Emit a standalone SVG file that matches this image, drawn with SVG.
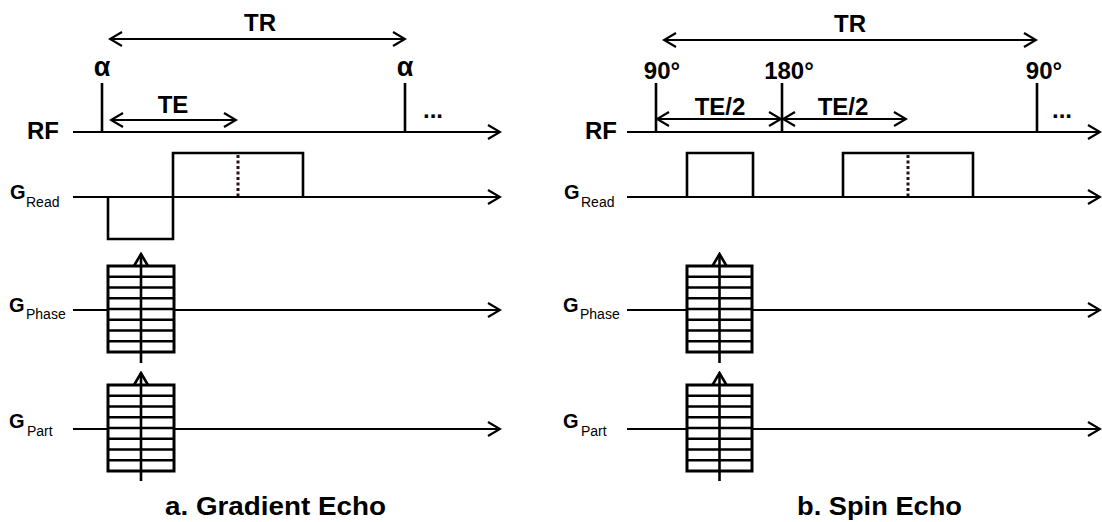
<svg xmlns="http://www.w3.org/2000/svg" width="1102" height="522" viewBox="0 0 1102 522">
<defs>
<marker id="chev" viewBox="-15 -9 17 18" markerWidth="17" markerHeight="18" refX="0" refY="0" orient="auto-start-reverse" markerUnits="userSpaceOnUse">
<path d="M-12,-7 L0,0 L-12,7" fill="none" stroke="#000" stroke-width="2.2"/>
</marker>
<marker id="chevT" viewBox="-15 -9 17 18" markerWidth="17" markerHeight="18" refX="0" refY="0" orient="auto" markerUnits="userSpaceOnUse">
<path d="M-12,-7 L0,0 L-12,7" fill="none" stroke="#000" stroke-width="2.6"/>
</marker>
</defs>
<style>
.ax{stroke:#000;stroke-width:2;fill:none;marker-end:url(#chev)}
.dim{stroke:#000;stroke-width:2;fill:none;marker-start:url(#chev);marker-end:url(#chev)}
.pulse{stroke:#000;stroke-width:2.6;fill:none}
.lobe{stroke:#000;stroke-width:2.6;fill:none}
.dot{stroke:#2a1010;stroke-width:3;stroke-dasharray:3 2.5;fill:none}
.tbl{stroke:#000;stroke-width:3;fill:#fff}
.row{stroke:#000;stroke-width:2.6}
.varr{stroke:#000;stroke-width:2.6;fill:none;marker-end:url(#chevT)}
.lb{font-family:"Liberation Sans",Arial,sans-serif;font-weight:bold;font-size:24px;fill:#000}
.al{font-family:"Liberation Sans",Arial,sans-serif;font-weight:bold;font-size:27px;fill:#000}
.g{font-family:"Liberation Sans",Arial,sans-serif;font-weight:bold;font-size:20px;fill:#000}
.sub{font-family:"Liberation Sans",Arial,sans-serif;font-size:14px;fill:#000}
.ttl{font-family:"Liberation Sans",Arial,sans-serif;font-weight:bold;font-size:25px;fill:#000}
.mid{text-anchor:middle}
</style>
<rect width="1102" height="522" fill="#fff"/>

<g id="connectors">
<line class="ax" x1="73" y1="132" x2="500" y2="132"/>
<line class="ax" x1="73" y1="197" x2="500" y2="197"/>
<line class="ax" x1="73" y1="310" x2="500" y2="310"/>
<line class="ax" x1="73" y1="429" x2="500" y2="429"/>
<line class="ax" x1="627" y1="132" x2="1100" y2="132"/>
<line class="ax" x1="627" y1="197" x2="1100" y2="197"/>
<line class="ax" x1="627" y1="310" x2="1100" y2="310"/>
<line class="ax" x1="627" y1="429" x2="1100" y2="429"/>
<line class="dim" x1="110" y1="39" x2="405" y2="39"/>
<line class="dim" x1="111" y1="120" x2="236" y2="120"/>
<line class="dim" x1="664" y1="40" x2="1036" y2="40"/>
<line class="dim" x1="657" y1="119" x2="781" y2="119"/>
<line class="dim" x1="783" y1="119" x2="906" y2="119"/>
</g>

<g id="panel-a">
<g id="a-rf">
<text class="lb" x="27" y="139">RF</text>
<line class="pulse" x1="102" y1="83" x2="102" y2="132"/>
<line class="pulse" x1="405" y1="83" x2="405" y2="132"/>
<text class="al mid" x="102" y="76">α</text>
<text class="al mid" x="405" y="76">α</text>
<text class="lb mid" x="260" y="31">TR</text>
<text class="lb mid" x="173" y="113">TE</text>
<text class="lb" x="423" y="118">...</text>
</g>
<g id="a-read">
<text class="g" x="10" y="199">G</text><text class="sub" x="26" y="207">Read</text>
<path class="lobe" d="M108,197 V239 H173 V153 H303 V197"/>
<line class="dot" x1="238" y1="155" x2="238" y2="196"/>
</g>
<g id="a-phase">
<text class="g" x="9" y="312">G</text><text class="sub" x="26" y="319">Phase</text>
<rect class="tbl" x="108" y="266" width="66" height="86"/>
<path class="row" d="M108,276.75H174M108,287.5H174M108,298.25H174M108,309H174M108,319.75H174M108,330.5H174M108,341.25H174"/>
<line class="varr" x1="141" y1="363" x2="141" y2="254"/>
</g>
<g id="a-part">
<text class="g" x="9" y="428">G</text><text class="sub" x="27" y="436">Part</text>
<rect class="tbl" x="108" y="385" width="66" height="86"/>
<path class="row" d="M108,395.75H174M108,406.5H174M108,417.25H174M108,428H174M108,438.75H174M108,449.5H174M108,460.25H174"/>
<line class="varr" x1="141" y1="481" x2="141" y2="373"/>
</g>
<text id="a-title" class="ttl" x="165" y="515" textLength="221" lengthAdjust="spacingAndGlyphs">a. Gradient Echo</text>
</g>

<g id="panel-b">
<g id="b-rf">
<text class="lb" x="585" y="139">RF</text>
<line class="pulse" x1="656" y1="83" x2="656" y2="132"/>
<line class="pulse" x1="782" y1="83" x2="782" y2="132"/>
<line class="pulse" x1="1037" y1="83" x2="1037" y2="132"/>
<text class="lb mid" x="662" y="79">90°</text>
<text class="lb mid" x="789" y="79">180°</text>
<text class="lb mid" x="1044" y="79">90°</text>
<text class="lb mid" x="850" y="32">TR</text>
<text class="lb mid" x="720" y="115">TE/2</text>
<text class="lb mid" x="843" y="115">TE/2</text>
<text class="lb" x="1052" y="118">...</text>
</g>
<g id="b-read">
<text class="g" x="564" y="199">G</text><text class="sub" x="581" y="207">Read</text>
<path class="lobe" d="M687,197 V153 H753 V197"/>
<path class="lobe" d="M843,197 V153 H973 V197"/>
<line class="dot" x1="908" y1="155" x2="908" y2="196"/>
</g>
<g id="b-phase">
<text class="g" x="563" y="312">G</text><text class="sub" x="580" y="319">Phase</text>
<rect class="tbl" x="687" y="266" width="65" height="86"/>
<path class="row" d="M687,276.75H752M687,287.5H752M687,298.25H752M687,309H752M687,319.75H752M687,330.5H752M687,341.25H752"/>
<line class="varr" x1="719.5" y1="363" x2="719.5" y2="254"/>
</g>
<g id="b-part">
<text class="g" x="563" y="428">G</text><text class="sub" x="581" y="436">Part</text>
<rect class="tbl" x="687" y="385" width="65" height="86"/>
<path class="row" d="M687,395.75H752M687,406.5H752M687,417.25H752M687,428H752M687,438.75H752M687,449.5H752M687,460.25H752"/>
<line class="varr" x1="719.5" y1="481" x2="719.5" y2="373"/>
</g>
<text id="b-title" class="ttl" x="797" y="515" textLength="165" lengthAdjust="spacingAndGlyphs">b. Spin Echo</text>
</g>
</svg>
